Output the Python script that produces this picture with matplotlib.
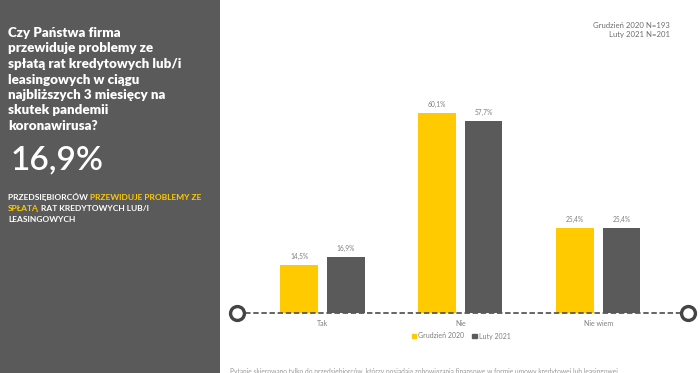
import matplotlib.pyplot as plt
from matplotlib.patches import Rectangle, Patch
import numpy as np

# data
categories = ['Tak', 'Nie', 'Nie wiem']
series_names = ['Grudzień 2020', 'Luty 2021']
grudzien_2020 = [14.5, 60.1, 25.4]
luty_2021 = [16.9, 57.7, 25.4]

sample_notes = ['Grudzień 2020 N=193', 'Luty 2021 N=201']
question_lines = ['Czy Państwa firma', 'przewiduje problemy ze',
                  'spłatą rat kredytowych lub/i', 'leasingowych w ciągu',
                  'najbliższych 3 miesięcy na', 'skutek pandemii',
                  'koronawirusa?']
headline = '16,9%'
footnote = ('Pytanie skierowano tylko do przedsiębiorców, którzy posiadają '
            'zobowiązania finansowe w formie umowy kredytowej lub leasingowej')

YELLOW = '#FFCA00'
DARK = '#5A5A5A'
TEXT_GRAY = '#7F7F7F'
W, H = 700, 373

fig = plt.figure(figsize=(7, 3.73), dpi=100)
fig.patch.set_facecolor('white')

# background layer in pixel coordinates
bg = fig.add_axes([0, 0, 1, 1])
bg.set_xlim(0, W)
bg.set_ylim(H, 0)
bg.axis('off')
bg.add_patch(Rectangle((0, 0), 220, H, facecolor=DARK, edgecolor='none'))

font = 'Lato'
for i, line in enumerate(question_lines):
    bg.text(8, 33 + i * 15.5, line, color='white', fontsize=9.6,
            fontweight='heavy', family=font, va='center', ha='left')

bg.text(11, 160, headline, color='white', fontsize=24, family=font,
        fontweight='semibold', va='center', ha='left')

# mixed-colour caption, pieces chained one after another
caption = [
    [('PRZEDSIĘBIORCÓW ', 'white'), ('PRZEWIDUJE PROBLEMY ZE', YELLOW)],
    [('SPŁATĄ', YELLOW), (' RAT KREDYTOWYCH LUB/I', 'white')],
    [('LEASINGOWYCH', 'white')],
]
for i, pieces in enumerate(caption):
    prev = None
    for txt, col in pieces:
        kw = dict(color=col, fontsize=6.0, fontweight='bold', family=font)
        if prev is None:
            prev = bg.text(8, 197 + i * 11.5, txt, va='center', ha='left', **kw)
        else:
            prev = bg.annotate(txt, xy=(1, 0.5), xycoords=prev,
                               va='center', ha='left', **kw)

for i, note in enumerate(sample_notes):
    bg.text(670, 25 + i * 10, note, color='#6E6E6E', fontsize=5.6,
            family=font, ha='right', va='center')

bg.text(230, 371, footnote, color='#9A9A9A', fontsize=4.8, family=font,
        ha='left', va='center')

# bar chart
ax = fig.add_axes([237 / W, (H - 313) / H, (688 - 237) / W, 223 / H])
x = np.arange(len(categories))
bw = 0.27
off = 0.17
b1 = ax.bar(x - off, grudzien_2020, bw, color=YELLOW, zorder=2)
b2 = ax.bar(x + off, luty_2021, bw, color=DARK, zorder=2)

for bars in (b1, b2):
    for rect in bars:
        v = rect.get_height()
        ax.text(rect.get_x() + rect.get_width() / 2, v + 1.5,
                f'{v:.1f}%'.replace('.', ','), ha='center', va='bottom',
                fontsize=4.8, color=TEXT_GRAY, family=font)

x0, x1 = -0.62, 2.65
ax.set_xlim(x0, x1)
ax.set_ylim(0, 67)
ax.plot([x0, x1], [0, 0], color='#595959', lw=1.3, ls=(0, (3, 1.5)),
        zorder=3, clip_on=False)
ax.plot([x0, x1], [0, 0], ls='none', marker='o', ms=10, mfc='white',
        mec='#444444', mew=2.4, zorder=4, clip_on=False)

for s in ax.spines.values():
    s.set_visible(False)
ax.set_yticks([])
ax.set_xticks(x)
ax.set_xticklabels(categories, fontsize=5, color=TEXT_GRAY, family=font)
ax.tick_params(axis='x', length=0, pad=5)
ax.patch.set_alpha(0)

handles = [Patch(color=YELLOW), Patch(color=DARK)]
fig.legend(handles, series_names, loc='center', bbox_to_anchor=(461 / W, 1 - 336 / H),
           ncol=2, frameon=False, handlelength=0.6, handleheight=0.6,
           handletextpad=0.3, columnspacing=1.2, prop={'family': font, 'size': 5},
           labelcolor=TEXT_GRAY)

fig.savefig('out.png', dpi=100)
